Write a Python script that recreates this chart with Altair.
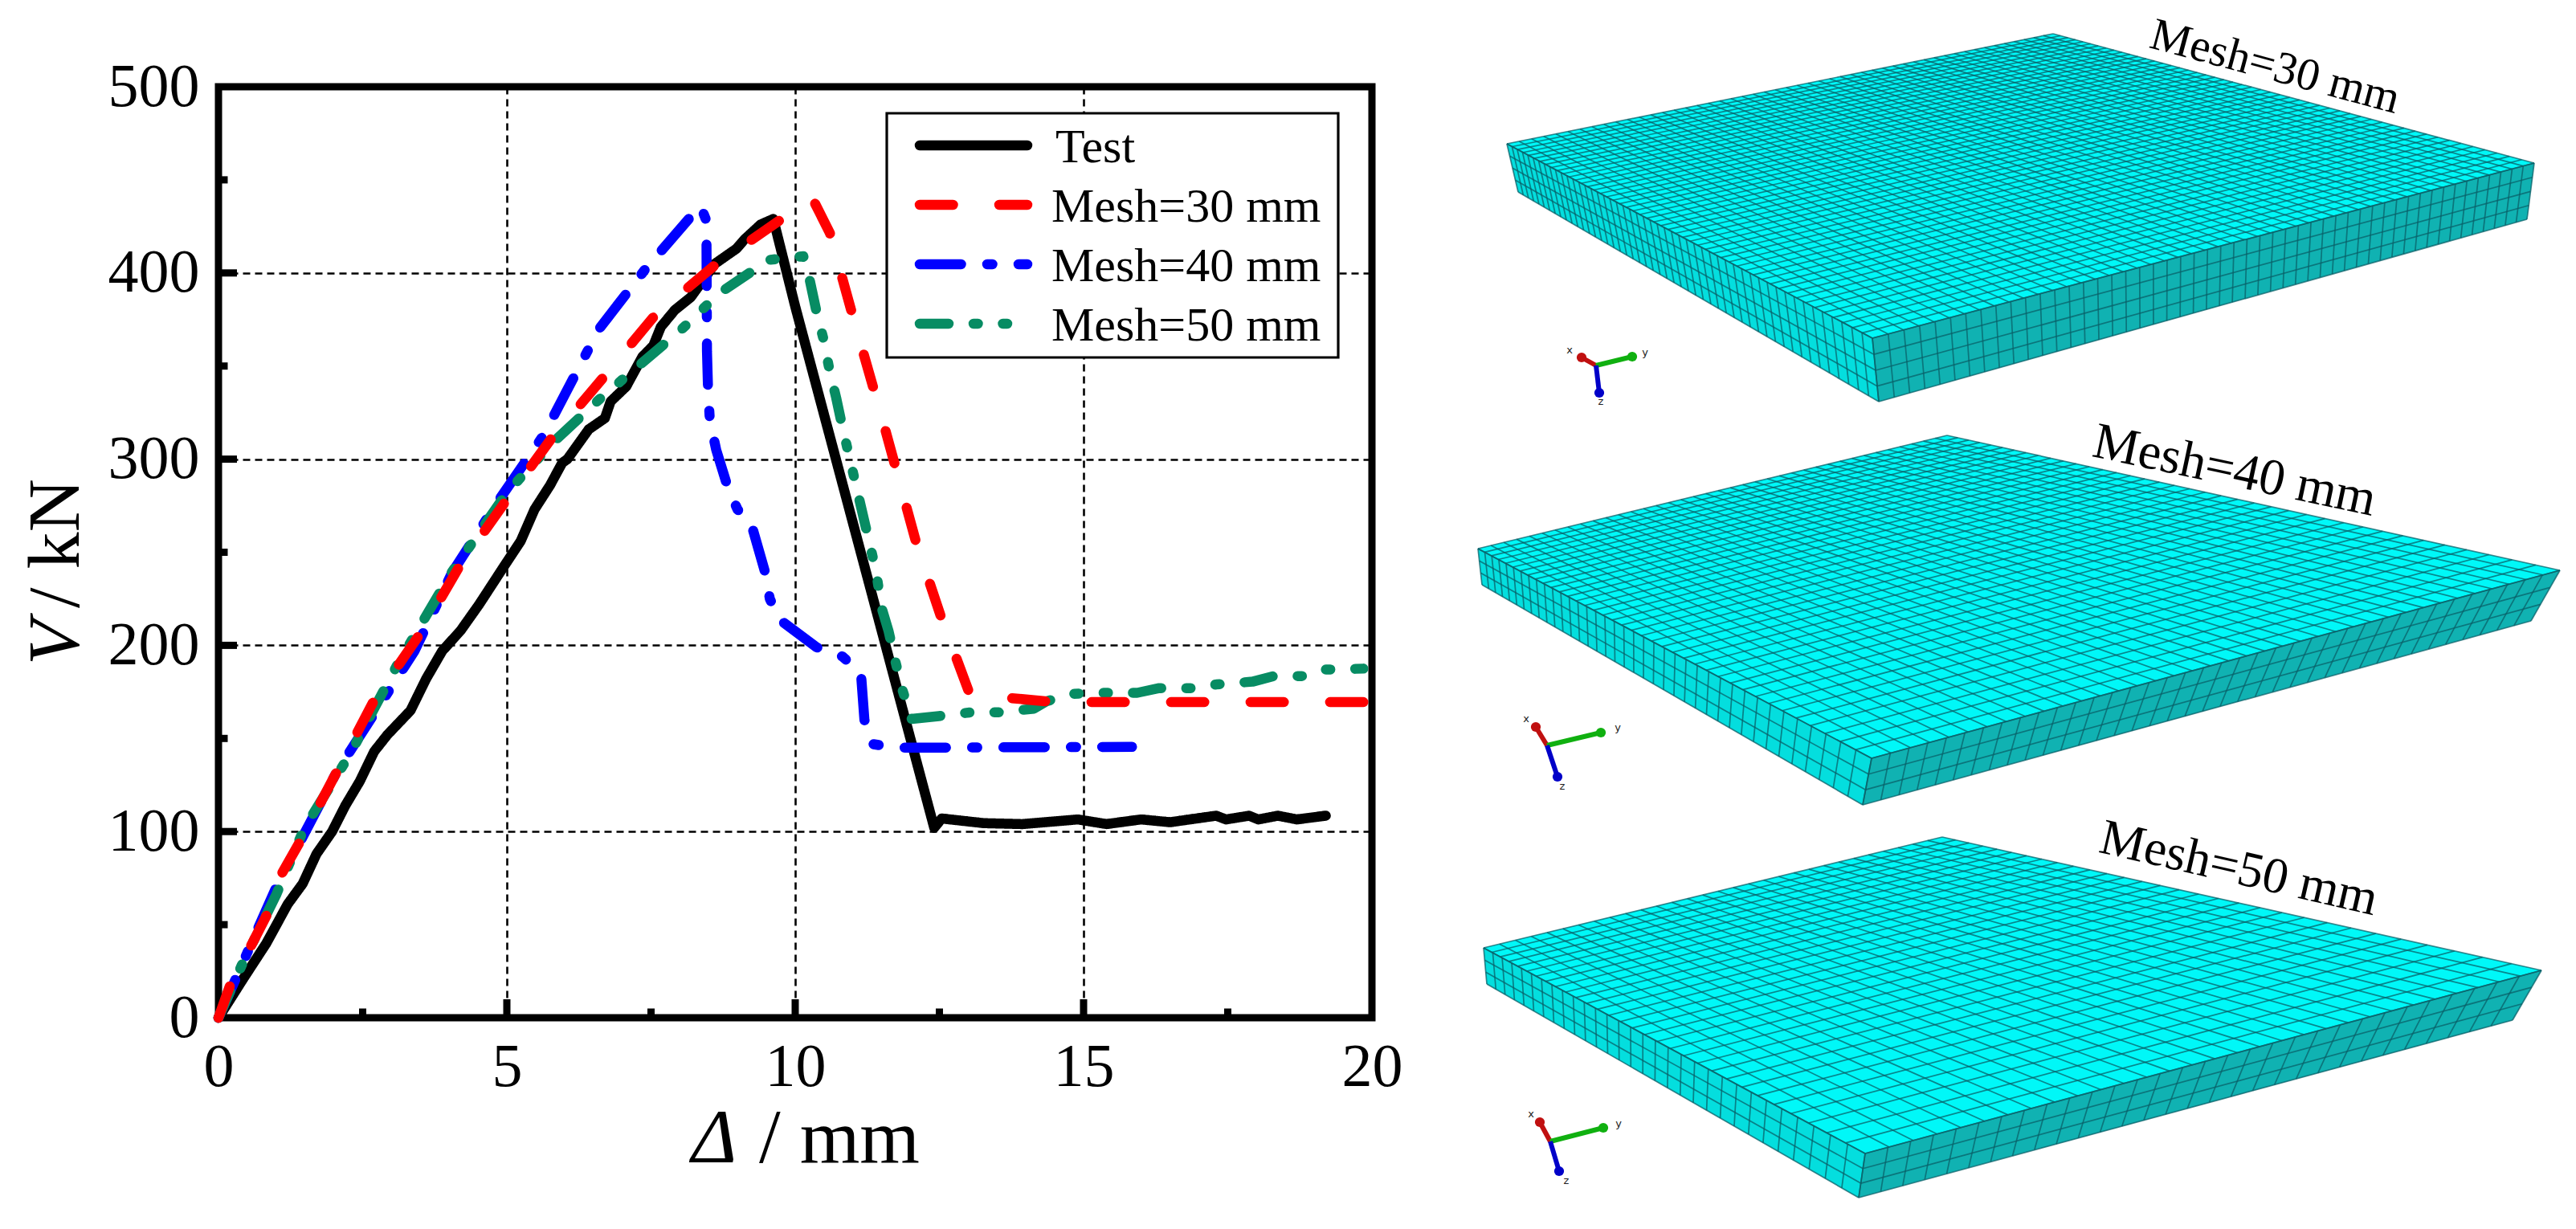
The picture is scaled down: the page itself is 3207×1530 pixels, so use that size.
import altair as alt
import numpy as np
import pandas as pd

alt.data_transformers.disable_max_rows()

FONT = "Liberation Serif"
# ---- curve data
test_x = [0, .43, .83, 1.2, 1.46, 1.7, 1.97, 2.2, 2.45, 2.7, 2.93, 3.33, 3.6, 3.88, 4.2, 4.52, 4.92, 5.24, 5.48, 5.75, 5.96, 6.05, 6.42, 6.7, 6.8, 7.07, 7.35, 7.54, 7.67, 7.91, 8.19, 8.61, 8.98, 9.12, 9.4, 9.62, 10.0, 12.41, 12.54, 13.27, 13.94, 14.9, 15.4, 16.0, 16.5, 17.3, 17.47, 17.87, 18.03, 18.37, 18.7, 19.2]
test_y = [0, 21, 40, 61, 72, 88, 100, 114, 127, 143, 152, 165, 182, 197, 208, 222, 241, 256, 273, 286, 298, 300, 316, 322, 331, 339, 355, 361, 371, 380, 387, 405, 413, 418, 426, 429, 382, 102, 107, 104.5, 104, 106.5, 104, 106.5, 105, 108.5, 106.5, 108.5, 106.5, 108.5, 106.5, 108.5]
m30_x = [0, .22, .57, .85, 1.09, 1.44, 2.05, 2.69, 3.49, 4.17, 4.97, 5.77, 6.65, 7.56, 8.6, 9.72, 10.3, 10.6, 10.97, 11.56, 12.09, 12.52, 13.0, 13.2, 13.73, 14.33, 15.04, 20.0]
m30_y = [0, 19, 39, 56, 77, 96, 132, 170, 206, 242, 277, 311, 343, 377, 404, 428, 440, 421.5, 380, 316, 256, 216, 176, 172, 171.7, 170, 169.5, 169.5]
m40_x = [0, 1.0, 2.05, 3.4, 4.05, 4.84, 5.64, 6.6, 7.4, 8.21, 8.36, 8.46, 8.47, 8.49, 8.52, 8.63, 8.84, 9.0, 9.24, 9.48, 9.56, 9.72, 10.37, 10.82, 11.14, 11.2, 11.34, 11.74, 15.84]
m40_y = [0, 70, 132, 197, 239, 277, 313, 370, 402, 431, 436, 428, 358, 336, 321, 305, 284, 273, 265, 239, 225, 214, 199, 194, 185, 160, 147, 145, 145.5]
m50_x = [0, .4, 1.0, 1.49, 2.29, 3.09, 4.04, 5.0, 5.8, 6.6, 7.24, 8.04, 8.68, 9.54, 10.14, 10.25, 10.37, 10.49, 10.6, 10.71, 10.82, 11.4, 11.5, 11.62, 11.74, 11.85, 12.02, 12.49, 13.04, 13.54, 14.14, 14.36, 14.83, 15.26, 15.93, 16.31, 16.87, 17.3, 17.93, 18.3, 18.84, 19.2, 19.85]
m50_y = [0, 28, 66, 102, 142, 189, 239, 282, 309, 332, 349, 370, 389, 407, 409, 396.5, 379, 364.5, 347, 333, 317, 240, 220, 207.5, 191, 177, 160.5, 162, 164, 164, 166, 170, 174, 174.5, 174.5, 177, 177, 179, 180.5, 183.5, 183.5, 187, 187.5]

x_values = [0, 5, 10, 15, 20]
y_values = [0, 100, 200, 300, 400, 500]
x_major = [5, 10, 15]
x_minor = [2.5, 7.5, 12.5, 17.5]
y_major = [100, 200, 300, 400]
y_minor = [50, 150, 250, 350, 450]

series_names = ["Test", "Mesh=30 mm", "Mesh=40 mm", "Mesh=50 mm"]
series_colors = ["#000000", "#FF0000", "#0000FF", "#078C63"]
series_dash = [[1, 0], [41.5, 57.5], [51.5, 32.5, 6.5, 32.5], [36, 31, 5.5, 31, 5.5, 31]]

# ---- layout of the picture (in picture pixels)
X0, X1, Y0, Y1 = 272, 1708, 108, 1267
W, H = X1 - X0, Y1 - Y0

px_x = alt.X("px:Q", scale=alt.Scale(domain=[0, 3207], range=[-X0, 3207 - X0], nice=False, zero=False), axis=None)
px_y = alt.Y("py:Q", scale=alt.Scale(domain=[0, 1530], range=[-Y0, 1530 - Y0], nice=False, zero=False), axis=None)
px_x2 = alt.X2("px2:Q")
px_y2 = alt.Y2("py2:Q")

plot_x = alt.Scale(domain=[0, 20], range=[0, W], nice=False, zero=False)
plot_y = alt.Scale(domain=[0, 500], range=[H, 0], nice=False, zero=False)

# ---- axes with grid
base_axes = alt.Chart(pd.DataFrame({"x": [0.0], "y": [0.0]})).mark_point(opacity=0).encode(
    x=alt.X("x:Q", scale=plot_x, axis=alt.Axis(
        values=x_values, title=None, ticks=False, domain=False, grid=True, gridColor="black", gridWidth=2.6,
        gridDash=[9, 6], labelFont=FONT, labelFontSize=76, labelColor="black", labelPadding=24, labelOverlap=False,
        labelFlush=False, format="d")),
    y=alt.Y("y:Q", scale=plot_y, axis=alt.Axis(
        values=y_values, title=None, ticks=False, domain=False, grid=True, gridColor="black", gridWidth=2.6,
        gridDash=[9, 6], labelFont=FONT, labelFontSize=76, labelColor="black", labelPadding=24, labelOverlap=False,
        labelFlush=False, format="d")),
)

def series_line(xs, ys, color, dash, width):
    df = pd.DataFrame({"x": xs, "y": ys, "i": range(len(xs))})
    return alt.Chart(df).mark_line(color=color, strokeWidth=width, strokeDash=dash, strokeCap="round", strokeJoin="round", clip=False).encode(
        x=alt.X("x:Q", scale=plot_x, axis=None), y=alt.Y("y:Q", scale=plot_y, axis=None), order="i:Q")

lines = [
    series_line(test_x, test_y, series_colors[0], series_dash[0], 12.5),
    series_line(m40_x, m40_y, series_colors[2], series_dash[2], 12.5),
    series_line(m50_x, m50_y, series_colors[3], series_dash[3], 12.5),
    series_line(m30_x, m30_y, series_colors[1], series_dash[1], 12.5),
]

# ---- inward ticks
def vticks(vals, length):
    return alt.Chart(pd.DataFrame({"x": vals})).mark_rule(color="black", strokeWidth=9).encode(
        x=alt.X("x:Q", scale=plot_x, axis=None), y=alt.value(H), y2=alt.value(H - length))

def hticks(vals, length):
    return alt.Chart(pd.DataFrame({"y": vals})).mark_rule(color="black", strokeWidth=9).encode(
        y=alt.Y("y:Q", scale=plot_y, axis=None), x=alt.value(0), x2=alt.value(length))

ticks = [vticks(x_major, 23), vticks(x_minor, 11.5), hticks(y_major, 23), hticks(y_minor, 11.5)]

# ---- text helper, positions in picture pixels
def text(s, x, y, size, style="normal", align="left", angle=0):
    return alt.Chart(pd.DataFrame({"px": [x], "py": [y], "t": [s]})).mark_text(
        font=FONT, fontSize=size, fontStyle=style, align=align, baseline="alphabetic", angle=angle, color="black").encode(
        x=px_x, y=px_y, text="t:N")

titles = [
    text("\u0394", 861, 1447, 96, "italic"),
    text("/ mm", 945, 1447, 96),
    text("V", 98, 828, 92, "italic", angle=270),
    text("/ kN", 98, 757, 92, angle=270),
]

# ---- legend box
legend_box = alt.Chart(pd.DataFrame({"px": [1104], "py": [141], "px2": [1666], "py2": [445]})).mark_rect(
    fill="white", stroke="black", strokeWidth=3.2).encode(x=px_x, y=px_y, x2=px_x2, y2=px_y2)
legend_layers = [legend_box]
legend_y = [181, 255, 329, 403]
legend_base = [202, 276, 350, 424]
for name, col, dash, ly, lb in zip(series_names, series_colors, series_dash, legend_y, legend_base):
    legend_layers.append(alt.Chart(pd.DataFrame({"px": [1145], "py": [ly], "px2": [1279], "py2": [ly]})).mark_rule(
        color=col, strokeWidth=12.5, strokeDash=dash, strokeCap="round").encode(x=px_x, y=px_y, x2=px_x2, y2=px_y2))
    legend_layers.append(text(name, 1314 if name == "Test" else 1309, lb, 60))

# ---- meshes: corners of each plate
plates = [
    dict(top=(2556, 42), left=(1876, 179), right=(3155, 203), front=(2331, 421), lb=(1890, 239), rb=(3146, 273), fb=(2339, 500), n=50, rows=4),
    dict(top=(2424, 542), left=(1840, 683), right=(3187, 710), front=(2330, 944), lb=(1845, 728), rb=(3151, 773), fb=(2319, 1002), n=38, rows=3),
    dict(top=(2418, 1042), left=(1847, 1180), right=(3164, 1208), front=(2322, 1436), lb=(1851, 1225), rb=(3128, 1270), fb=(2314, 1491), n=30, rows=3),
]
COL_TOP, COL_LEFT, COL_RIGHT, COL_GRID = "#00F8F8", "#04DEDE", "#10B2B2", "#0A6068"

def homography(q):
    # maps the unit square (0,0),(1,0),(1,1),(0,1) on the quad q
    (x0, y0), (x1, y1), (x2, y2), (x3, y3) = q
    dx1, dx2, sx = x1 - x2, x3 - x2, x0 - x1 + x2 - x3
    dy1, dy2, sy = y1 - y2, y3 - y2, y0 - y1 + y2 - y3
    d = dx1 * dy2 - dx2 * dy1
    g = (sx * dy2 - dx2 * sy) / d
    h = (dx1 * sy - sx * dy1) / d
    m = np.array([[x1 - x0 + g * x1, x3 - x0 + h * x3, x0], [y1 - y0 + g * y1, y3 - y0 + h * y3, y0], [g, h, 1.0]])
    def f(u, v):
        p = m @ np.array([u, v, 1.0])
        return p[0] / p[2], p[1] / p[2]
    return f

def face_area(q, color):
    # a convex quad as an area between its upper and lower outline
    q = [tuple(map(float, p)) for p in q]
    xs = sorted({p[0] for p in q})
    edges = [(q[i], q[(i + 1) % 4]) for i in range(4)]
    up, low = [], []
    for x in xs:
        ys = []
        for a, b in edges:
            if min(a[0], b[0]) <= x <= max(a[0], b[0]):
                if a[0] == b[0]:
                    ys += [a[1], b[1]]
                else:
                    ys.append(a[1] + (x - a[0]) / (b[0] - a[0]) * (b[1] - a[1]))
        up.append(min(ys))
        low.append(max(ys))
    df = pd.DataFrame({"px": xs, "py": up, "py2": low})
    return alt.Chart(df).mark_area(color=color).encode(x=px_x, y=px_y, y2=px_y2)

face_layers, grid_rows = [], []
def add_face(q, color, nu, nv):
    face_layers.append(face_area(q, color))
    f = homography(q)
    for i in range(nu + 1):
        a, b = f(i / nu, 0), f(i / nu, 1)
        grid_rows.append({"px": a[0], "py": a[1], "px2": b[0], "py2": b[1]})
    for j in range(nv + 1):
        a, b = f(0, j / nv), f(1, j / nv)
        grid_rows.append({"px": a[0], "py": a[1], "px2": b[0], "py2": b[1]})

for p in plates:
    add_face([p["left"], p["top"], p["right"], p["front"]], COL_TOP, p["n"], p["n"])
    add_face([p["left"], p["front"], p["fb"], p["lb"]], COL_LEFT, p["n"], p["rows"])
    add_face([p["front"], p["right"], p["rb"], p["fb"]], COL_RIGHT, p["n"], p["rows"])

mesh_lines = alt.Chart(pd.DataFrame(grid_rows)).mark_rule(color=COL_GRID, strokeWidth=1.7, opacity=0.75).encode(
    x=px_x, y=px_y, x2=px_x2, y2=px_y2)

mesh_labels = [
    text("Mesh=30 mm", 2828, 100, 57, align="center", angle=15),
    text("Mesh=40 mm", 2778, 605, 64, align="center", angle=12),
    text("Mesh=50 mm", 2783, 1100, 63, align="center", angle=13),
]

# ---- orientation triads: origin, x tip, y tip, z tip, and label spots
triads = [
    dict(o=(1987, 455), x=(1969, 445), y=(2032, 444), z=(1991, 489), lx=(1954, 436), ly=(2048, 439), lz=(1993, 500)),
    dict(o=(1926, 928), x=(1912, 905), y=(1993, 912), z=(1939, 967), lx=(1900, 895), ly=(2014, 906), lz=(1945, 979)),
    dict(o=(1930, 1421), x=(1917, 1397), y=(1996, 1404), z=(1941, 1458), lx=(1906, 1387), ly=(2015, 1399), lz=(1950, 1470)),
]
tri_layers = []
for t in triads:
    for key, col, lab, lkey in [("x", "#C01010", "x", "lx"), ("y", "#10B010", "y", "ly"), ("z", "#0000C8", "z", "lz")]:
        tri_layers.append(alt.Chart(pd.DataFrame({"px": [t["o"][0]], "py": [t["o"][1]], "px2": [t[key][0]], "py2": [t[key][1]]})).mark_rule(
            color=col, strokeWidth=6).encode(x=px_x, y=px_y, x2=px_x2, y2=px_y2))
        tri_layers.append(alt.Chart(pd.DataFrame({"px": [t[key][0]], "py": [t[key][1]]})).mark_point(
            filled=True, color=col, size=150, shape="circle", opacity=1).encode(x=px_x, y=px_y))
        tri_layers.append(alt.Chart(pd.DataFrame({"px": [t[lkey][0]], "py": [t[lkey][1]], "t": [lab]})).mark_text(
            font="DejaVu Sans", fontSize=13, color="#222222", align="center", baseline="middle").encode(x=px_x, y=px_y, text="t:N"))

chart = alt.layer(
    base_axes, *lines, *ticks, *legend_layers, *titles, *face_layers, mesh_lines, *mesh_labels, *tri_layers
).resolve_scale(x="independent", y="independent").properties(
    width=W, height=H,
    padding={"left": X0 - 8, "top": Y0 - 8, "right": 3191 - X1, "bottom": 1510 - Y1},
    autosize=alt.AutoSizeParams(type="none"),
    background="white",
).configure_view(stroke="black", strokeWidth=9)

chart.save("out.html", embed_options={"renderer": "svg", "actions": False})
